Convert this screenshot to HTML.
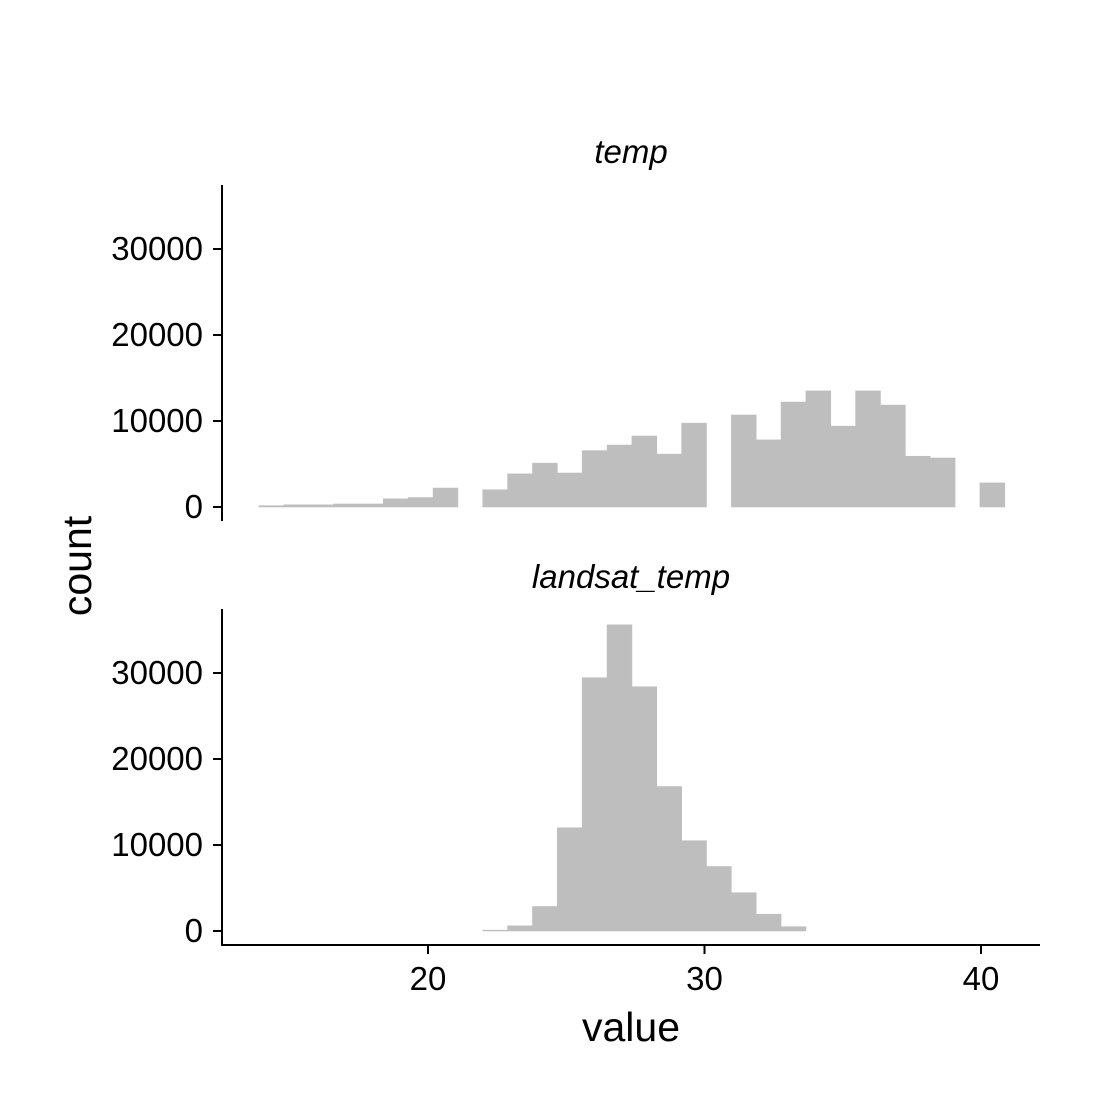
<!DOCTYPE html>
<html><head><meta charset="utf-8"><style>
body{margin:0;background:#fff}
svg{display:block;font-family:"Liberation Sans",Arial,sans-serif}
</style></head><body>
<svg id="chart" width="1100" height="1100" viewBox="0 0 1100 1100"></svg>
<script>
const binStart = 13.89;
const binWidth = 0.899;
const tempCounts = [150,250,250,350,350,950,1100,2200,0,2000,3850,5100,3950,6550,7200,8250,6150,9750,0,10700,7800,12200,13500,9400,13500,11850,5900,5700,0,2800];
const landsatCounts = [0,0,0,0,0,0,0,0,0,100,600,2850,12000,29450,35600,28400,16800,10500,7500,4450,1950,500,0,0,0,0,0,0,0,0];
const yTicks = [0,10000,20000,30000];
const xTicks = [20,30,40];
const panelNames = ["temp","landsat_temp"];

const NS="http://www.w3.org/2000/svg";
const svg=document.getElementById('chart');
function mk(t,a,p){const e=document.createElementNS(NS,t);for(const k in a)e.setAttribute(k,a[k]);(p||svg).appendChild(e);return e;}
const xS=v=>428+(v-20)*27.65;
const panels=[{zero:507,top:185,bot:521,title:152,counts:tempCounts},{zero:931,top:609,bot:945,title:577,counts:landsatCounts}];
const yS=(p,v)=>p.zero-v*0.0086;

panels.forEach((p,pi)=>{
  const g=mk('g',{});
  
  
  p.counts.forEach((c,i)=>{
    if(c<=0)return;
    const x0=xS(binStart+i*binWidth),x1=xS(binStart+(i+1)*binWidth);
    const r=mk('rect',{x:x0,y:yS(p,c),width:x1-x0,height:p.zero-yS(p,c),fill:'#bebebe',stroke:'#bebebe','stroke-width':0.6},g);
    
    
  });
  const ax=mk('line',{x1:222,x2:222,y1:p.top,y2:p.bot,stroke:'#000','stroke-width':2},g);
  
  
  yTicks.forEach(v=>{
    const y=yS(p,v);
    mk('line',{x1:213,x2:222,y1:y,y2:y,stroke:'#000','stroke-width':2},g);
    const t=mk('text',{x:203,y:y+11,'text-anchor':'end','font-size':33},g);
    t.textContent=v;
    
    
  });
  const st=mk('text',{x:631,y:p.title+11,'text-anchor':'middle','font-size':33,'font-style':'italic'},g);
  st.textContent=panelNames[pi];
  
  
});
const xa=mk('line',{x1:221,x2:1040,y1:945,y2:945,stroke:'#000','stroke-width':2});


xTicks.forEach(v=>{
  const x=xS(v);
  mk('line',{x1:x,x2:x,y1:945,y2:954,stroke:'#000','stroke-width':2});
  const t=mk('text',{x:x,y:990,'text-anchor':'middle','font-size':33});
  t.textContent=v;
  
  
});
const xt=mk('text',{x:631,y:1041,'text-anchor':'middle','font-size':41});
xt.textContent='value';


const yt=mk('text',{x:0,y:0,'text-anchor':'middle','font-size':41,transform:'translate(91,566) rotate(-90)'});
yt.textContent='count';


</script>
</body></html>
